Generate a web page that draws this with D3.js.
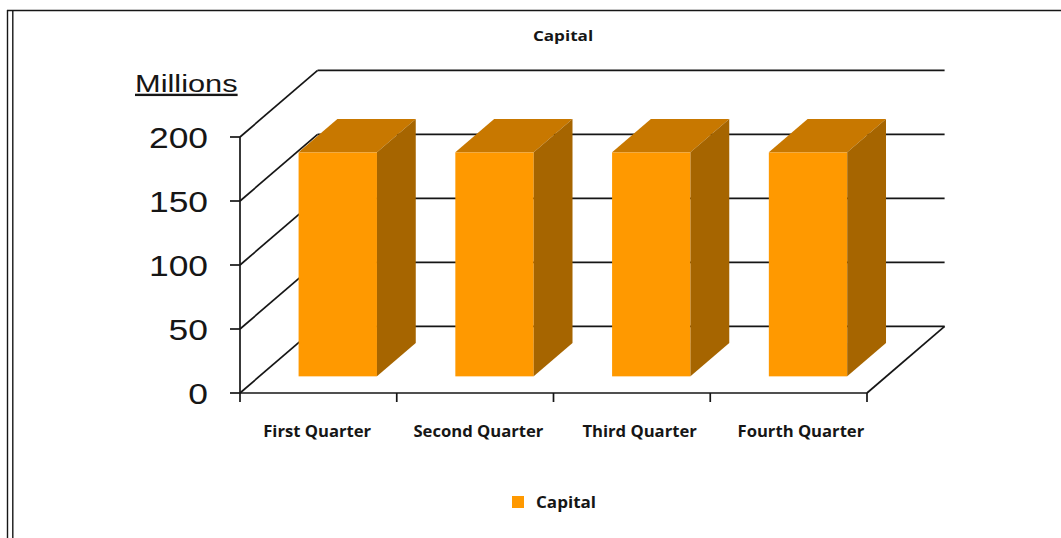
<!DOCTYPE html>
<html>
<head>
<meta charset="utf-8">
<script src="https://cdn.jsdelivr.net/npm/d3@7/dist/d3.min.js"></script>
<style>
  html, body { margin: 0; padding: 0; background: #fff; }
  svg { display: block; }
</style>
</head>
<body>
<svg id="chart" width="1061" height="538"></svg>
<script>
// Quarterly capital, in millions
const categories = ["First Quarter", "Second Quarter", "Third Quarter", "Fourth Quarter"];
const capital = [175, 175, 175, 175];
const yTicks = [0, 50, 100, 150, 200];
const seriesName = "Capital";
const chartTitle = "Capital";
const unitLabel = "Millions";

const W = 1061, H = 538;
const svg = d3.select("#chart");

const ink = "#161616";
const barFront = "#ff9900";
const barTop = "#c87800";
const barSide = "#a66500";

// Frame: top rule and a double rule on the left
const frame = svg.append("g").attr("stroke", ink).attr("stroke-width", 1.4).attr("fill", "none");
frame.append("line").attr("x1", 7).attr("x2", W).attr("y1", 10.5).attr("y2", 10.5);
frame.append("line").attr("x1", 7.5).attr("x2", 7.5).attr("y1", 10).attr("y2", H);
frame.append("line").attr("x1", 12.8).attr("x2", 12.8).attr("y1", 11).attr("y2", H);

// Front plane scales
const x = d3.scaleBand().domain(categories).range([240, 867]).paddingInner(0.5).paddingOuter(0.25);
const y = d3.scaleLinear().domain([0, 200]).range([393, 137]);
// Category label positions along the floor edge
const xLabel = d3.scaleBand().domain(categories).range([236.5, 881.5]);

// Oblique depth of the plot box (full depth) and the bar slab within it
const DX = 77.6, DY = -66.6;
const d0 = 0.25, d1 = 0.75;

const x0 = x.range()[0], x1 = x.range()[1];

const grid = svg.append("g").attr("stroke", ink).attr("stroke-width", 1.7).attr("fill", "none");
// Back wall gridlines
grid.selectAll("line.back").data(yTicks).join("line")
  .attr("class", "back")
  .attr("x1", x0 + DX).attr("x2", x1 + DX)
  .attr("y1", d => y(d) + DY).attr("y2", d => y(d) + DY);
// Side wall gridlines
grid.selectAll("line.side").data(yTicks).join("line")
  .attr("class", "side")
  .attr("x1", x0).attr("x2", x0 + DX)
  .attr("y1", d => y(d)).attr("y2", d => y(d) + DY);
// Floor right edge
grid.append("line")
  .attr("x1", x1).attr("y1", y(0))
  .attr("x2", x1 + DX).attr("y2", y(0) + DY);

// Bars
const bars = svg.append("g");
categories.forEach((c, i) => {
  const v = capital[i];
  const ox = DX * d0, oy = DY * d0;
  const bx = DX * (d1 - d0), by = DY * (d1 - d0);
  const xl = x(c) + ox, xr = x(c) + x.bandwidth() + ox;
  const yt = y(v) + oy, yb = y(0) + oy;
  const g = bars.append("g");
  g.append("rect")
    .attr("x", xl).attr("y", yt)
    .attr("width", xr - xl).attr("height", yb - yt)
    .attr("fill", barFront);
  g.append("polygon")
    .attr("points", [[xl, yt], [xl + bx, yt + by], [xr + bx, yt + by], [xr, yt]].map(p => p.join(",")).join(" "))
    .attr("fill", barTop);
  g.append("polygon")
    .attr("points", [[xr, yt], [xr + bx, yt + by], [xr + bx, yb + by], [xr, yb]].map(p => p.join(",")).join(" "))
    .attr("fill", barSide);
});

// Value axis
const axes = svg.append("g").attr("stroke", ink).attr("stroke-width", 1.7).attr("fill", "none");
axes.append("line").attr("x1", x0).attr("x2", x0).attr("y1", y(200)).attr("y2", y(0));
axes.selectAll("line.ytick").data(yTicks).join("line")
  .attr("class", "ytick")
  .attr("x1", x0 - 10).attr("x2", x0)
  .attr("y1", d => y(d)).attr("y2", d => y(d));

// Category axis along the floor front edge
axes.append("line").attr("x1", x0).attr("x2", x1).attr("y1", y(0)).attr("y2", y(0));
const bounds = categories.map(c => x(c) - x.step() * x.paddingInner() / 2).concat([x1]);
bounds[0] = x0;
axes.selectAll("line.xtick").data(bounds).join("line")
  .attr("class", "xtick")
  .attr("x1", d => d).attr("x2", d => d)
  .attr("y1", y(0)).attr("y2", y(0) + 9);

// Value tick labels
const numFont = "'Liberation Sans', Arial, sans-serif";
svg.append("g").selectAll("text").data(yTicks).join("text")
  .attr("transform", d => `translate(${x0 - 32},${y(d) + 10.5}) scale(1.2,1)`)
  .attr("text-anchor", "end")
  .attr("font-family", numFont)
  .attr("font-size", 29.5)
  .attr("fill", ink)
  .text(d => d);

// Unit label above the value axis
svg.append("text")
  .attr("transform", `translate(135,92) scale(1.31,1)`)
  .attr("font-family", numFont)
  .attr("font-size", 23.5)
  .attr("fill", ink)
  .style("text-decoration", "underline")
  .text(unitLabel);

// Category labels
const labelFont = "'Open Sans', sans-serif";
svg.append("g").selectAll("text").data(categories).join("text")
  .attr("transform", c => `translate(${xLabel(c) + xLabel.bandwidth() / 2},437) scale(1.04,1)`)
  .attr("text-anchor", "middle")
  .attr("font-family", labelFont)
  .attr("font-weight", 700)
  .attr("font-size", 16)
  .attr("fill", ink)
  .text(c => c);

// Title
svg.append("text")
  .attr("transform", `translate(563,41) scale(1.14,1)`)
  .attr("text-anchor", "middle")
  .attr("font-family", labelFont)
  .attr("font-weight", 700)
  .attr("font-size", 15)
  .attr("fill", ink)
  .text(chartTitle);

// Legend
const legend = svg.append("g").attr("transform", "translate(512,496)");
legend.append("rect").attr("width", 12).attr("height", 12).attr("fill", barFront);
legend.append("text")
  .attr("transform", "translate(24,11.5) scale(1.1,1)")
  .attr("font-family", labelFont)
  .attr("font-weight", 700)
  .attr("font-size", 15.5)
  .attr("fill", ink)
  .text(seriesName);
</script>
</body>
</html>
